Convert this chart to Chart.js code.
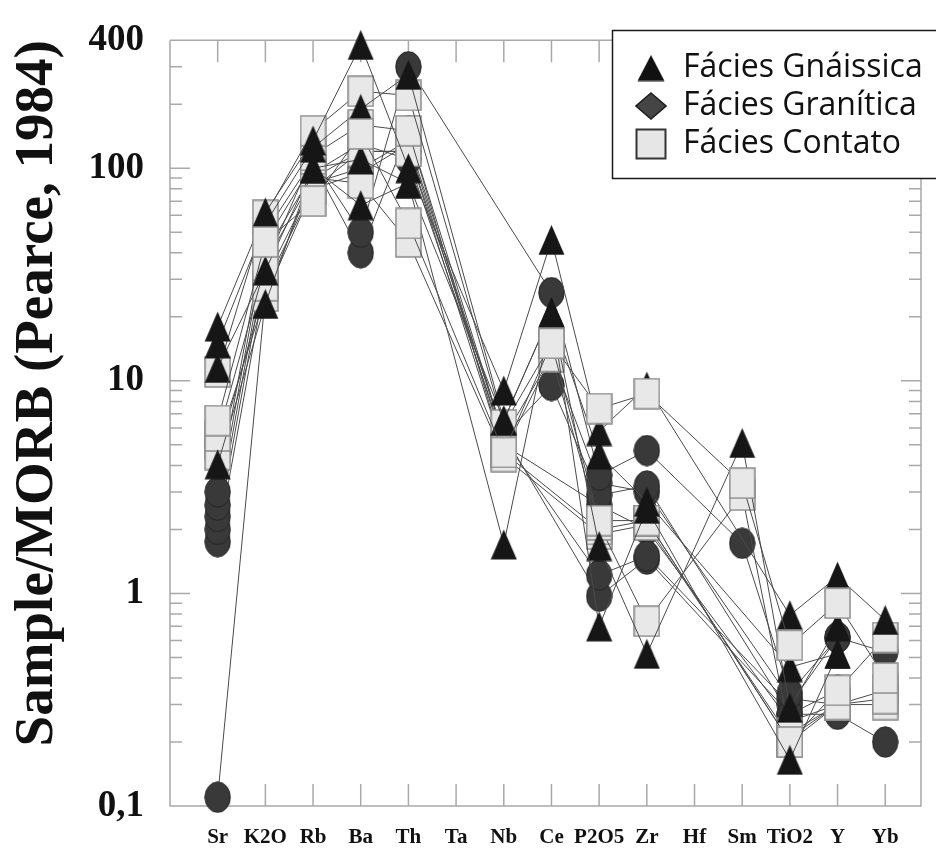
<!DOCTYPE html>
<html>
<head>
<meta charset="utf-8">
<script src="https://cdn.jsdelivr.net/npm/chart.js@4.4.1/dist/chart.umd.min.js"></script>
<style>
  html, body { margin: 0; padding: 0; background: #fff; }
  #wrap { width: 936px; height: 851px; }
</style>
</head>
<body>
<div id="wrap"><canvas id="myChart" width="936" height="851"></canvas></div>
<script>
// elementos no eixo x (Ta e Hf sem dados)
const elements = ['Sr', 'K2O', 'Rb', 'Ba', 'Th', 'Ta', 'Nb', 'Ce', 'P2O5', 'Zr', 'Hf', 'Sm', 'TiO2', 'Y', 'Yb'];

// Fácies Gnáissica
const gn1 = [18, 62, 135, 380, 100, null, 9, 46, 5.8, 9.4, null, null, 0.79, 1.2, 0.75];
const gn2 = [15, 55, 125, 190, 275, null, 6.5, 21, 0.7, 2.5, null, null, 0.165, 0.52, null];
const gn3 = [11.5, 33, 100, 110, 85, null, 6.5, 21, 1.67, 0.52, null, 5.1, 0.29, 0.7, null];
const gn4 = [4.05, 23, 100, 67, 85, null, 1.7, 20, 4.5, 2.7, null, null, 0.45, 0.52, null];

// Fácies Granítica
const gr1 = [3.0, 50, 110, 50, 300, null, null, 26, 3.6, 4.7, null, 1.72, 0.34, 0.62, 0.53];
const gr2 = [2.6, 45, 105, 40, 150, null, 5.5, 9.5, 2.9, 3.2, null, null, 0.27, 0.27, 0.2];
const gr3 = [2.3, 40, 95, 130, 110, null, 5.3, null, 1.22, 1.5, null, null, 0.3, 0.62, null];
const gr4 = [2.0, 36, 90, 120, 120, null, 5.6, null, 0.97, 1.45, null, null, 0.27, 0.35, null];
const gr5 = [1.75, 30, 85, 100, 135, null, 5.4, 13, 3.3, 3.0, null, null, 0.32, 0.3, null];
const gr6 = [0.11, 25, 80, 95, 130, null, 5.0, null, 2.6, 2.0, null, null, 0.25, 0.3, null];

// Fácies Contato
const ct1 = [6.5, 45, 70, 145, 55, null, 4.6, 15, 7.4, 8.7, null, 3.3, 0.57, 0.9, 0.4];
const ct2 = [11, 60, 150, 230, 220, null, 6.2, 15, 2.2, 2.2, null, null, 0.2, 0.35, 0.62];
const ct3 = [5.5, 35, 115, 160, 150, null, 4.6, 13, 2.1, 0.74, null, 2.9, 0.22, 0.3, 0.32];
const ct4 = [4.5, 28, 80, 120, 120, null, 4.6, null, 2.0, 2.2, null, null, 0.2, 0.3, 0.3];
const ct5 = [5.0, 25, 90, 85, 45, null, 4.4, null, 1.9, 2.1, null, null, 0.21, 0.3, 0.35];

// legenda
const faciesNames = ['Fácies Gnáissica', 'Fácies Granítica', 'Fácies Contato'];

// eixo y
const yTickValues = [0.1, 1, 10, 100, 400];
const yTickLabels = ['0,1', '1', '10', '100', '400'];

// símbolos
function makeIcon(w, h, draw) {
  const c = document.createElement('canvas');
  c.width = w;
  c.height = h;
  draw(c.getContext('2d'), w, h);
  return c;
}
const triIcon = makeIcon(27, 31, (g, w, h) => {
  g.fillStyle = '#161616';
  g.beginPath();
  g.moveTo(w / 2, 0.5);
  g.lineTo(w - 0.5, h - 0.5);
  g.lineTo(0.5, h - 0.5);
  g.closePath();
  g.fill();
});
const circIcon = makeIcon(27, 32, (g, w, h) => {
  g.fillStyle = '#393939';
  g.strokeStyle = '#262626';
  g.lineWidth = 1;
  g.beginPath();
  g.ellipse(w / 2, h / 2, w / 2 - 0.8, h / 2 - 0.8, 0, 0, Math.PI * 2);
  g.fill();
  g.stroke();
});
const sqIcon = makeIcon(27, 32, (g, w, h) => {
  g.fillStyle = '#e8e8e8';
  g.strokeStyle = '#8c8c8c';
  g.lineWidth = 1.5;
  g.fillRect(1, 1, w - 2, h - 2);
  g.strokeRect(1, 1, w - 2, h - 2);
});
const legendIcons = [
  makeIcon(28, 27, (g, w, h) => {
    g.fillStyle = '#111';
    g.beginPath();
    g.moveTo(w / 2, 0.5);
    g.lineTo(w - 0.5, h - 0.5);
    g.lineTo(0.5, h - 0.5);
    g.closePath();
    g.fill();
  }),
  makeIcon(32, 28, (g, w, h) => {
    g.fillStyle = '#454545';
    g.strokeStyle = '#1e1e1e';
    g.lineWidth = 1.5;
    g.beginPath();
    g.moveTo(w / 2, 1);
    g.lineTo(w - 1, h / 2);
    g.lineTo(w / 2, h - 1);
    g.lineTo(1, h / 2);
    g.closePath();
    g.fill();
    g.stroke();
  }),
  makeIcon(32, 32, (g, w, h) => {
    g.fillStyle = '#e6e6e6';
    g.strokeStyle = '#333';
    g.lineWidth = 2;
    g.fillRect(1.5, 1.5, w - 3, h - 3);
    g.strokeRect(1.5, 1.5, w - 3, h - 3);
  })
];

// ordem de desenho: o primeiro fica por cima
const samples = [
  [ct1, sqIcon],
  [gn1, triIcon], [gn2, triIcon], [gn3, triIcon], [gn4, triIcon],
  [ct2, sqIcon], [ct3, sqIcon], [ct4, sqIcon], [ct5, sqIcon],
  [gr1, circIcon], [gr2, circIcon], [gr3, circIcon], [gr4, circIcon], [gr5, circIcon], [gr6, circIcon]
];

const datasets = samples.map(([values, icon]) => ({
  data: values.map((v, i) => ({x: i, y: v})),
  borderColor: '#4a4a4a',
  borderWidth: 1,
  pointStyle: icon,
  pointRadius: 14,
  pointHoverRadius: 14,
  spanGaps: true,
  clip: false,
  tension: 0
}));

// ticks do eixo y: décadas com subdivisões
const yTicks = [];
[0.1, 1, 10].forEach(d => {
  for (let m = 1; m <= 9; m++) yTicks.push(+(m * d).toPrecision(3));
});
yTicks.push(100, 200, 300, 400);

const LEGEND_BOX = {left: 612, top: 30, bottom: 178};

// moldura e ticks internos
const framePlugin = {
  id: 'frame',
  afterLayout(chart) {
    const lg = chart.legend;
    if (!lg) return;
    lg.left = 629;
    lg.top = 46;
    lg.right = 936;
    lg.bottom = lg.top + 200;
  },
  beforeDraw(chart) {
    const {ctx, chartArea: a, scales} = chart;
    const x = scales.x, y = scales.y;
    ctx.save();
    ctx.strokeStyle = '#a9a9a9';
    ctx.lineWidth = 1.5;
    ctx.beginPath();
    ctx.moveTo(a.left, a.top);
    ctx.lineTo(a.left, a.bottom);
    ctx.lineTo(a.right, a.bottom);
    ctx.lineTo(a.right, a.top);
    ctx.lineTo(a.left, a.top);
    y.ticks.forEach(t => {
      const py = y.getPixelForValue(t.value);
      const lg = Math.log10(t.value);
      const len = Math.abs(lg - Math.round(lg)) < 1e-6 ? 20 : 12;
      ctx.moveTo(a.left, py);
      ctx.lineTo(a.left + len, py);
      ctx.moveTo(a.right, py);
      ctx.lineTo(a.right - len, py);
    });
    x.ticks.forEach(t => {
      const px = x.getPixelForValue(t.value);
      ctx.moveTo(px, a.bottom);
      ctx.lineTo(px, a.bottom - 22);
      ctx.moveTo(px, a.top);
      ctx.lineTo(px, a.top + 22);
    });
    ctx.stroke();
    // fundo da legenda
    ctx.fillStyle = '#fff';
    ctx.fillRect(LEGEND_BOX.left, LEGEND_BOX.top, chart.width - LEGEND_BOX.left, LEGEND_BOX.bottom - LEGEND_BOX.top);
    ctx.restore();
  },
  afterDraw(chart) {
    const ctx = chart.ctx;
    ctx.save();
    ctx.strokeStyle = '#1a1a1a';
    ctx.lineWidth = 1.5;
    ctx.strokeRect(LEGEND_BOX.left + 0.5, LEGEND_BOX.top + 0.5, chart.width - LEGEND_BOX.left + 5, LEGEND_BOX.bottom - LEGEND_BOX.top);
    ctx.restore();
  }
};

const ctx = document.getElementById('myChart').getContext('2d');
const myChart = new Chart(ctx, {
  type: 'line',
  data: { datasets: datasets },
  plugins: [framePlugin],
  options: {
    responsive: false,
    animation: false,
    devicePixelRatio: 1,
    layout: { padding: {top: 30, right: 1, bottom: 0, left: 0} },
    plugins: {
      tooltip: { enabled: false },
      legend: {
        position: 'chartArea',
        align: 'start',
        onClick: null,
        labels: {
          usePointStyle: true,
          boxWidth: 32,
          padding: 6,
          color: '#111',
          font: { family: '"Open Sans"', size: 32 },
          generateLabels: () => faciesNames.map((name, i) => ({
            text: name,
            pointStyle: legendIcons[i],
            fillStyle: 'transparent',
            strokeStyle: 'transparent',
            lineWidth: 0,
            hidden: false,
            fontColor: '#111',
            datasetIndex: i
          }))
        }
      }
    },
    scales: {
      x: {
        type: 'linear',
        position: 'bottom',
        min: -1,
        max: 14.75,
        grid: { display: false },
        border: { display: false },
        afterBuildTicks: (scale) => {
          scale.ticks = elements.map((e, i) => ({value: i}));
        },
        afterFit: (scale) => { scale.height = 45; },
        ticks: {
          autoSkip: false,
          maxRotation: 0,
          padding: 11,
          color: '#111',
          font: { family: '"Liberation Serif"', size: 21, weight: 'bold' },
          callback: (value) => elements[Math.round(value)]
        }
      },
      y: {
        type: 'logarithmic',
        position: 'left',
        min: 0.1,
        max: 400,
        grid: { display: false },
        border: { display: false },
        afterBuildTicks: (scale) => {
          scale.ticks = yTicks.map(v => ({value: v}));
        },
        afterFit: (scale) => { scale.width = 170; },
        title: {
          display: true,
          text: 'Sample/MORB (Pearce, 1984)',
          align: 'end',
          color: '#111',
          padding: {top: 5, bottom: 0},
          font: { family: '"Liberation Serif"', size: 55, weight: 'bold' }
        },
        ticks: {
          autoSkip: false,
          padding: 18,
          color: '#111',
          font: { family: '"Liberation Serif"', size: 37, weight: 'bold' },
          callback: (value) => {
            const i = yTickValues.findIndex(t => Math.abs(t - value) < 1e-9);
            return i >= 0 ? yTickLabels[i] : '';
          }
        }
      }
    }
  }
});
</script>
</body>
</html>
